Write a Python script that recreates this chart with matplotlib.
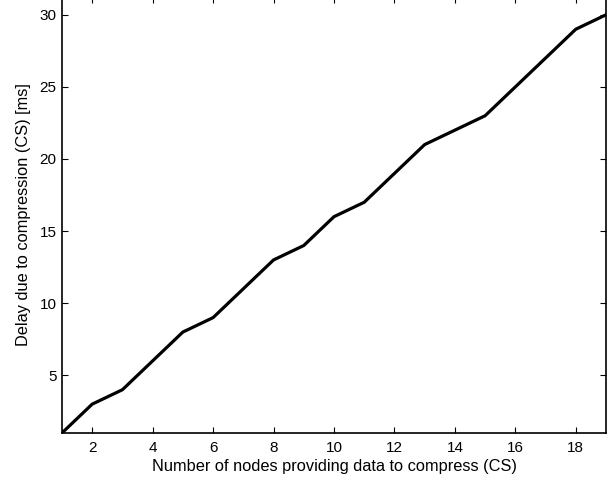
import matplotlib
matplotlib.use("Agg")
import matplotlib.pyplot as plt

plt.rcParams['font.family'] = ['Liberation Sans', 'DejaVu Sans']

nodes = [1, 2, 3, 4, 5, 6, 7, 8, 9, 10, 11, 12, 13, 14, 15, 16, 17, 18, 19]
delay_ms = [1, 3, 4, 6, 8, 9, 11, 13, 14, 16, 17, 19, 21, 22, 23, 25, 27, 29, 30]
x_ticks = [2, 4, 6, 8, 10, 12, 14, 16, 18]
y_ticks = [5, 10, 15, 20, 25, 30]

fig = plt.figure(figsize=(6.16, 4.82), dpi=100)
ax = fig.add_axes([0.1006, 0.1017, 0.8832, 0.905])
ax.plot(nodes, delay_ms, color='black', linewidth=2.3, solid_joinstyle='miter')

ax.set_xlim(1, 19)
ax.set_ylim(1, 31.25)
ax.set_xticks(x_ticks)
ax.set_yticks(y_ticks)
ax.tick_params(direction='in', top=True, right=True, length=4, width=0.8,
               labelsize=11, pad=4)
ax.tick_params(axis='x', pad=6)
for s in ax.spines.values():
    s.set_linewidth(1.2)

ax.set_xlabel('Number of nodes providing data to compress (CS)', fontsize=11.8, labelpad=3)
ax.set_ylabel('Delay due to compression (CS) [ms]', fontsize=11.8, labelpad=6)

fig.savefig('out.png', dpi=100)
